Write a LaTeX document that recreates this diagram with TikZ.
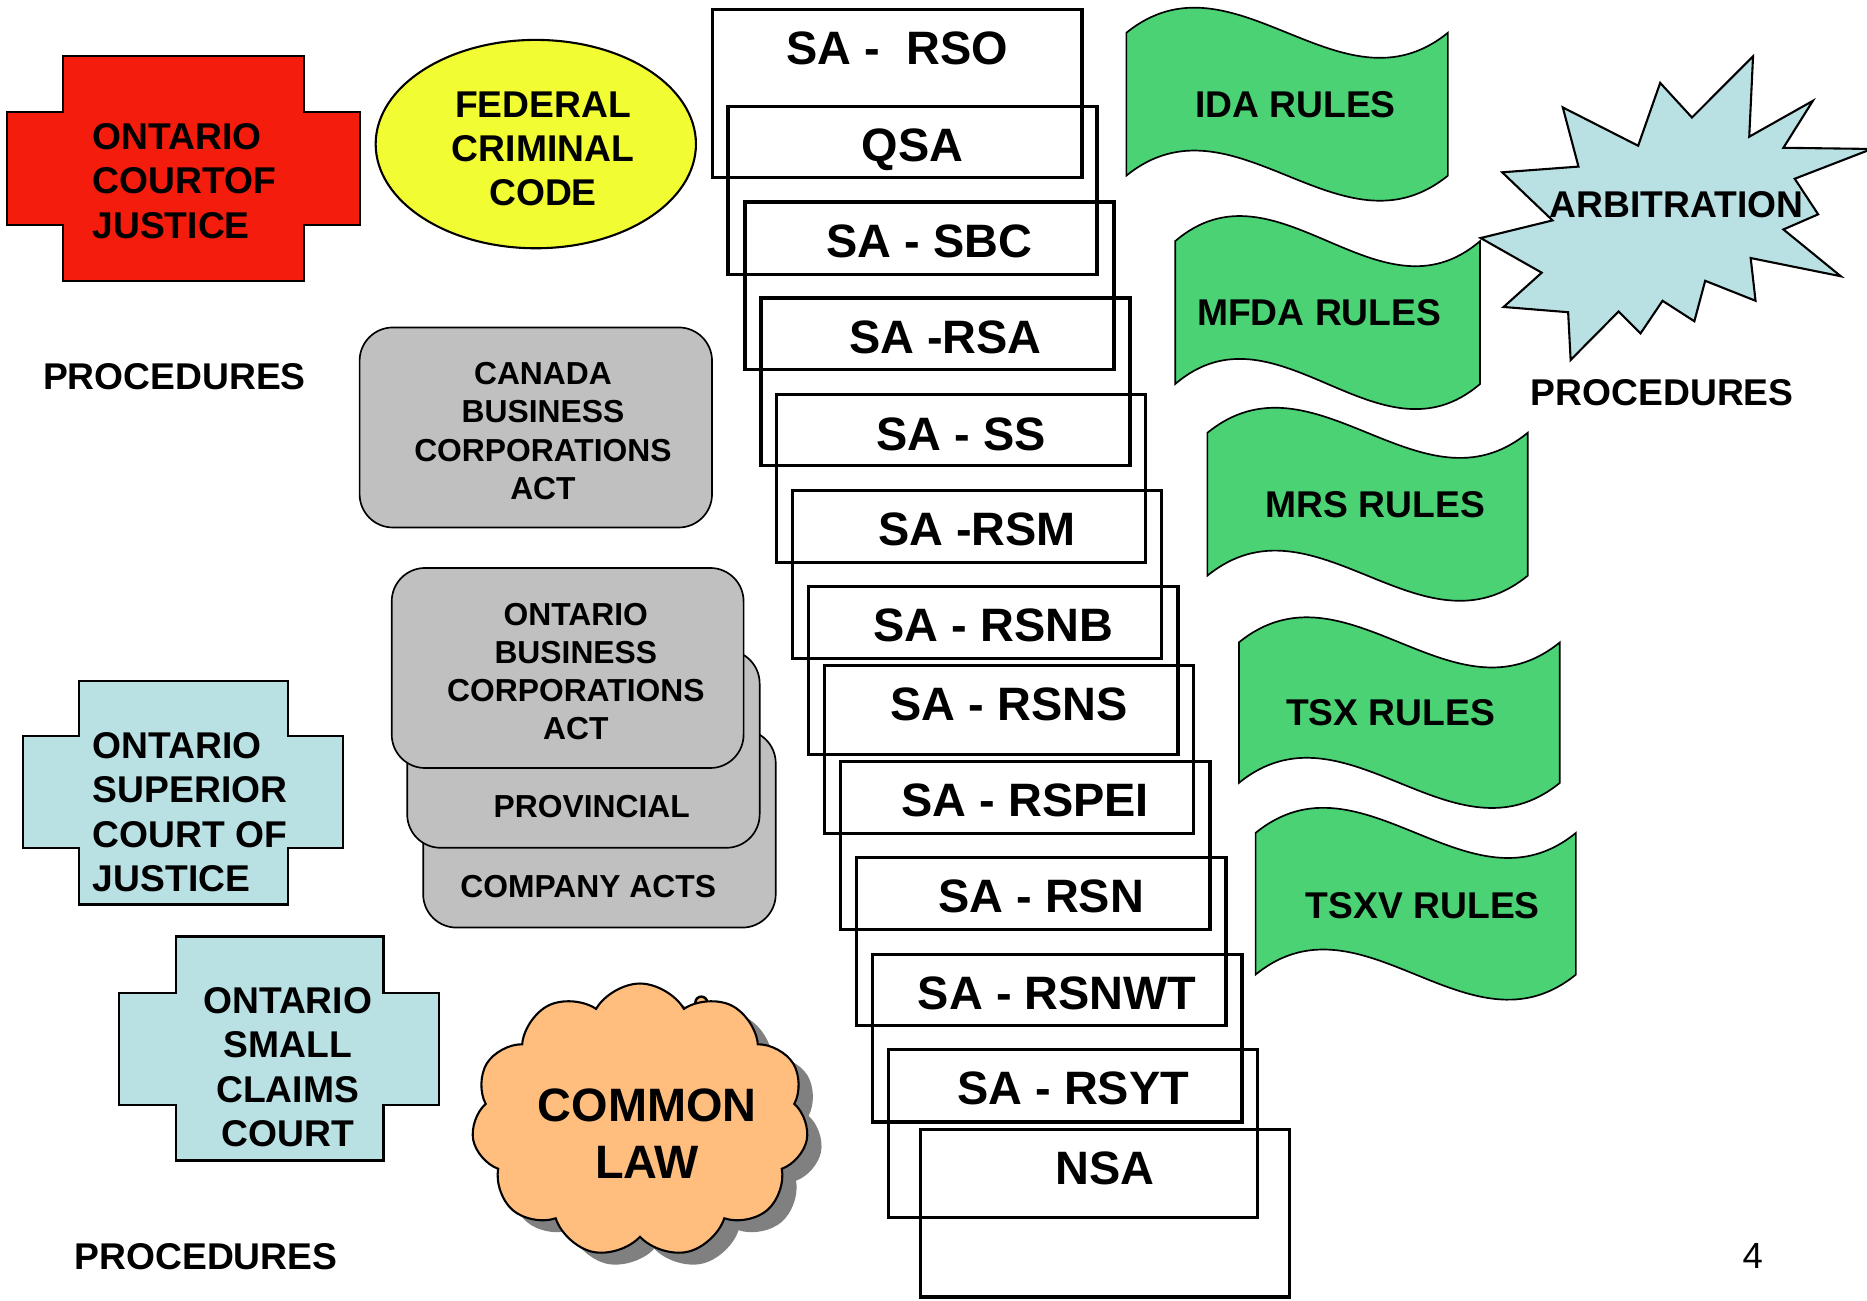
\documentclass[tikz,border=0pt]{standalone}
\usepackage{fontspec}
\setmainfont{Liberation Sans}
\usetikzlibrary{shapes.symbols}

\definecolor{courtred}{RGB}{244,28,12}
\definecolor{codeyellow}{RGB}{242,252,50}
\definecolor{rulegreen}{RGB}{74,210,116}
\definecolor{courtblue}{RGB}{185,224,227}
\definecolor{actgray}{RGB}{192,192,192}
\definecolor{lawpeach}{RGB}{255,190,125}
\definecolor{shadowgray}{RGB}{128,128,128}

\begin{document}
\begin{tikzpicture}[x=0.1mm,y=-0.1mm,
        sabox/.style={draw,line width=0.85pt,anchor=north west,minimum width=31mm,text height=4.65mm,text depth=9.45mm,inner ysep=0pt,font=\bfseries\fontsize{11.2}{13}\selectfont},
        court/.style={line width=0.5pt},
        courttext/.style={inner sep=0pt,font=\bfseries\fontsize{8.9}{10.6}\selectfont},
        acttext/.style={align=center,font=\bfseries\fontsize{7.6}{9.1}\selectfont},
        flag/.style={draw,fill=rulegreen,line width=0.4pt},
        bigtext/.style={font=\bfseries\fontsize{8.9}{10.5}\selectfont},
        lawcloud/.style={cloud,cloud puffs=11,cloud puff arc=120,aspect=1.23,minimum width=28.3mm,minimum height=23mm,inner sep=0pt}]
        \useasboundingbox[fill=white] (0,0) rectangle (1568,1092);
        % courts
        \draw[court,fill=courtred] (52.8,47) -- (255,47) -- (255,94) -- (302,94) -- (302,189) -- (255,189)
            -- (255,235.7) -- (52.8,235.7) -- (52.8,189) -- (5.8,189) -- (5.8,94) -- (52.8,94) -- cycle;
        \node[courttext,anchor=west,align=left] (ocj) at (77,152) {ONTARIO\\COURTOF\\JUSTICE};
        \draw[court,fill=courtblue] (66.6,571.6) -- (241.6,571.6) -- (241.6,618.4) -- (288,618.4) -- (288,712.4) -- (241.6,712.4)
            -- (241.6,759.6) -- (66.6,759.6) -- (66.6,712.4) -- (19.3,712.4) -- (19.3,618.4) -- (66.6,618.4) -- cycle;
        \node[courttext,anchor=west,align=left] (oscj) at (77.4,682) {ONTARIO\\SUPERIOR\\COURT OF\\JUSTICE};
        \draw[court,fill=courtblue] (147.6,786.5) -- (322.1,786.5) -- (322.1,834.1) -- (368.9,834.1) -- (368.9,927.8) -- (322.1,927.8)
            -- (322.1,974.6) -- (147.6,974.6) -- (147.6,927.8) -- (99.9,927.8) -- (99.9,834.1) -- (147.6,834.1) -- cycle;
        \node[courttext,align=center] (oscc) at (241.6,896.2) {ONTARIO\\SMALL\\CLAIMS\\COURT};
        % federal code
        \draw[court,fill=codeyellow] (450,121) ellipse (134.5 and 87.5);
        \node[bigtext,align=center] (fcc) at (456,125) {FEDERAL\\CRIMINAL\\CODE};
        % acts
        \draw[fill=actgray,rounded corners=2.8mm] (302,275) rectangle (598,443);
        \node[acttext] (cbca) at (456,362) {CANADA\\BUSINESS\\CORPORATIONS\\ACT};
        \draw[fill=actgray,rounded corners=2.8mm] (355.4,613) rectangle (651.5,779);
        \draw[fill=actgray,rounded corners=2.8mm] (342,546) rectangle (638,712);
        \draw[fill=actgray,rounded corners=2.8mm] (329,477) rectangle (624.5,645);
        \node[acttext] (obca) at (483.6,564) {ONTARIO\\BUSINESS\\CORPORATIONS\\ACT};
        \node[acttext] (prov) at (497,677.4) {PROVINCIAL};
        \node[acttext] (coacts) at (494,744.6) {COMPANY ACTS};
        % common law
        \draw[line width=0.6pt,fill=lawpeach] (539,839) circle (5.5) (589,842) circle (5);
        \node[lawcloud,fill=shadowgray] (lawshadow) at (549.5,951) {};
        \node[lawcloud,draw,fill=lawpeach,line width=0.5pt] (lawcloud) at (537.5,941) {};
        \node[align=center,font=\bfseries\fontsize{11.2}{13.7}\selectfont] (common) at (543.5,952) {COMMON\\LAW};
        % securities acts
        \foreach \x/\y/\txt/\nm in {597/6.5/{SA -\ \ RSO}/rso,610/88/QSA/qsa,624/168/SA - SBC/sbc,637.6/248.6/SA -RSA/rsa,
            650.6/330/SA - SS/ss,664/410.5/SA -RSM/rsm,677.7/491/SA - RSNB/rsnb,691/557.5/SA - RSNS/rsns,
            704.5/638/SA - RSPEI/rspei,718/718.7/SA - RSN/rsn,731.4/800/SA - RSNWT/rsnwt,744.8/880/SA - RSYT/rsyt,771.5/947/NSA/nsa}
            \node[sabox] (\nm) at (\x,\y) {\txt};
        % rules
        \foreach \l/\t/\w/\h/\tx/\ty/\txt/\nm in {946/27.5/270/120/1088/88/IDA RULES/ida,987/202.5/256/120/1108/263/MFDA RULES/mfda,
            1014/363.5/269/120/1155/424/MRS RULES/mrs,1040.5/539.5/269.5/118/1168/598.5/TSX RULES/tsx,
            1054.5/699.5/269/119/1195/760.5/TSXV RULES/tsxv}
        {
            \draw[flag] (\l,\t) .. controls +(\w/3,-73) and +(-\w/3,73) .. (\l+\w,\t) -- ++(0,\h)
                .. controls +(-\w/3,73) and +(\w/3,-73) .. (\l,\t+\h) -- cycle;
            \node[bigtext] (\nm) at (\tx,\ty) {\txt};
        }
        % arbitration
        \draw[court,fill=courtblue] (1472.3,47.3) -- (1469.1,114.8) -- (1522.5,84.7) -- (1497.8,124.1) -- (1572,125.1)
            -- (1507.3,150.1) -- (1527,180) -- (1497.8,192.7) -- (1546,232) -- (1470.3,216.7) -- (1474.4,252.6)
            -- (1432.1,235.8) -- (1423,269.8) -- (1396.3,252.6) -- (1377.8,280) -- (1359.4,261.6) -- (1319.1,302.3)
            -- (1317,262.2) -- (1262.8,257.8) -- (1294.8,229) -- (1243.5,199.9) -- (1303.9,185.1) -- (1261.6,144.7)
            -- (1325.7,139.9) -- (1312.5,90.2) -- (1375.8,122.4) -- (1394.3,69.6) -- (1421,98.7) -- cycle;
        \node[bigtext] (arb) at (1408,172) {ARBITRATION};
        % procedures
        \node[bigtext] (proc1) at (146.5,316.5) {PROCEDURES};
        \node[bigtext] (proc2) at (1396,330) {PROCEDURES};
        \node[bigtext] (proc3) at (173,1055) {PROCEDURES};
        \node[font=\fontsize{8.7}{10}\selectfont] (pagenum) at (1472,1055) {4};
    \end{tikzpicture}
\end{document}
